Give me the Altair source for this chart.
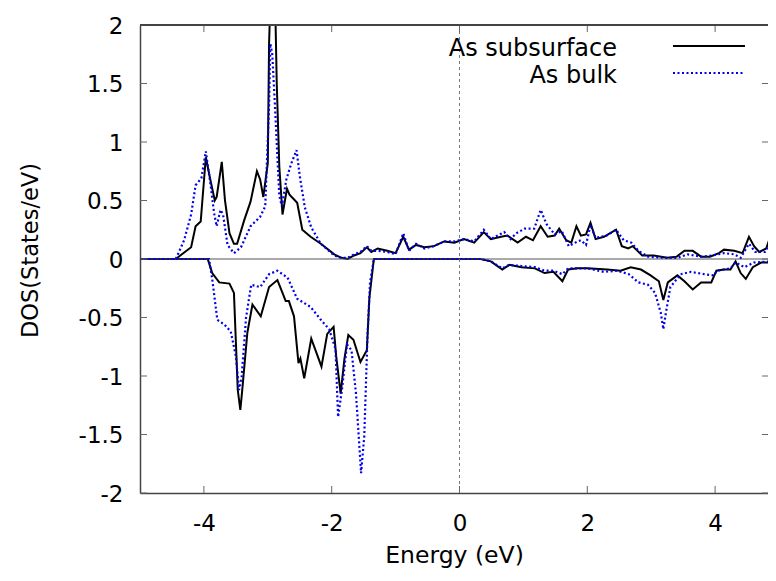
import altair as alt
import pandas as pd

# ---------------- data ----------------
sub_up_E = [-5.0, -4.44, -4.37, -4.2, -4.13, -4.05, -3.97, -3.90, -3.83, -3.80, -3.72, -3.67, -3.60, -3.53,
            -3.48, -3.37, -3.27, -3.17, -3.12, -3.07, -3.00, -2.98, -2.955, -2.92, -2.885, -2.86, -2.82, -2.77,
            -2.70, -2.66, -2.54, -2.46, -2.33, -2.17, -1.96, -1.85, -1.75, -1.65, -1.55, -1.45, -1.38, -1.28,
            -1.13, -1.00, -0.88, -0.79, -0.68, -0.55, -0.40, -0.24, -0.08, 0.07, 0.23, 0.38, 0.49, 0.65, 0.75,
            0.91, 1.04, 1.15, 1.27, 1.38, 1.49, 1.56, 1.67, 1.75, 1.83, 1.90, 1.98, 2.05, 2.13, 2.26, 2.45,
            2.54, 2.64, 2.71, 2.86, 3.04, 3.25, 3.40, 3.52, 3.65, 3.78, 3.92, 4.06, 4.14, 4.30, 4.43, 4.53,
            4.61, 4.69, 4.80, 4.87, 4.92, 5.0]
sub_up_D = [0.0, 0.0, 0.03, 0.10, 0.28, 0.32, 0.87, 0.68, 0.50, 0.53, 0.83, 0.50, 0.22, 0.13,
            0.13, 0.33, 0.49, 0.75, 0.68, 0.53, 0.82, 1.84, 2.3, 2.6, 2.2, 1.50, 0.79, 0.38,
            0.60, 0.55, 0.48, 0.25, 0.19, 0.13, 0.04, 0.01, 0.0, 0.03, 0.05, 0.10, 0.06, 0.09,
            0.07, 0.05, 0.19, 0.08, 0.12, 0.10, 0.11, 0.15, 0.14, 0.17, 0.14, 0.23, 0.17, 0.19, 0.20,
            0.14, 0.19, 0.16, 0.28, 0.19, 0.20, 0.26, 0.16, 0.14, 0.28, 0.20, 0.21, 0.31, 0.17, 0.19, 0.25,
            0.11, 0.09, 0.11, 0.03, 0.03, 0.01, 0.02, 0.07, 0.07, 0.02, 0.02, 0.05, 0.08, 0.07, 0.05, 0.19,
            0.11, 0.06, 0.09, 0.20, 0.26, 0.30]

bulk_up_E = [-5.0, -4.44, -4.31, -4.2, -4.13, -4.04, -3.97, -3.89, -3.84, -3.80, -3.74, -3.70, -3.63, -3.53,
             -3.42, -3.27, -3.12, -3.04, -2.98, -2.96, -2.93, -2.89, -2.82, -2.78, -2.71, -2.63, -2.55, -2.50,
             -2.42, -2.32, -2.17, -1.96, -1.85, -1.75, -1.65, -1.55, -1.45, -1.38, -1.28, -1.13, -1.00, -0.88,
             -0.79, -0.68, -0.55, -0.40, -0.24, -0.08, 0.07, 0.23, 0.38, 0.49, 0.70, 0.80, 0.89, 1.02, 1.17,
             1.27, 1.36, 1.49, 1.60, 1.71, 1.81, 1.90, 1.98, 2.05, 2.13, 2.30, 2.45, 2.57, 2.69, 2.80, 2.95,
             3.20, 3.41, 3.57, 3.78, 3.95, 4.14, 4.30, 4.40, 4.53, 4.63, 4.78, 4.87, 4.95, 5.0]
bulk_up_D = [0.0, 0.0, 0.16, 0.38, 0.63, 0.69, 0.92, 0.61, 0.39, 0.28, 0.42, 0.38, 0.12, 0.05,
             0.10, 0.28, 0.36, 0.45, 1.31, 1.84, 1.75, 1.33, 0.54, 0.45, 0.68, 0.82, 0.93, 0.71,
             0.44, 0.27, 0.13, 0.03, 0.01, 0.01, 0.04, 0.06, 0.11, 0.07, 0.07, 0.06, 0.04, 0.22,
             0.07, 0.13, 0.09, 0.11, 0.15, 0.15, 0.17, 0.15, 0.25, 0.17, 0.23, 0.17, 0.22, 0.26, 0.26,
             0.42, 0.30, 0.21, 0.24, 0.11, 0.14, 0.16, 0.12, 0.29, 0.18, 0.20, 0.25, 0.16, 0.14, 0.07, 0.02,
             0.01, 0.01, 0.04, 0.02, 0.03, 0.05, 0.04, 0.01, 0.13, 0.06, 0.06, 0.14, 0.18, 0.20]

sub_dn_E = [-5.0, -3.94, -3.87, -3.76, -3.60, -3.53, -3.47, -3.43, -3.40, -3.32, -3.24, -3.11, -2.98, -2.85,
            -2.77, -2.72, -2.67, -2.59, -2.52, -2.49, -2.43, -2.32, -2.26, -2.16, -2.07, -1.97, -1.93, -1.86,
            -1.80, -1.74, -1.66, -1.55, -1.45, -1.41, -1.34, 0.33, 0.49, 0.67, 0.78, 0.97, 1.18, 1.33, 1.47,
            1.61, 1.70, 1.85, 2.00, 2.31, 2.52, 2.68, 2.84, 2.99, 3.12, 3.19, 3.26, 3.41, 3.52, 3.65, 3.78,
            3.94, 4.02, 4.14, 4.24, 4.32, 4.40, 4.48, 4.59, 4.72, 4.87, 5.0]
sub_dn_D = [0.0, 0.0, -0.12, -0.20, -0.21, -0.29, -1.12, -1.29, -1.12, -0.63, -0.39, -0.49, -0.24, -0.18,
            -0.29, -0.36, -0.36, -0.49, -0.89, -0.85, -1.02, -0.68, -0.77, -0.92, -0.64, -0.58, -0.83, -1.15,
            -0.85, -0.65, -0.69, -0.88, -0.78, -0.33, 0.0, 0.0, -0.02, -0.09, -0.05, -0.07, -0.08, -0.12, -0.11,
            -0.19, -0.09, -0.08, -0.08, -0.09, -0.10, -0.07, -0.09, -0.14, -0.19, -0.35, -0.20, -0.14, -0.19,
            -0.26, -0.20, -0.20, -0.10, -0.09, -0.09, -0.02, -0.12, -0.17, -0.07, -0.03, -0.03, -0.03]

bulk_dn_E = [-5.0, -3.92, -3.87, -3.79, -3.68, -3.58, -3.50, -3.45, -3.41, -3.34, -3.26, -3.12, -2.98, -2.85,
             -2.69, -2.54, -2.33, -2.17, -2.04, -1.94, -1.90, -1.84, -1.76, -1.69, -1.62, -1.54, -1.49, -1.44,
             -1.40, -1.34, 0.33, 0.49, 0.67, 0.78, 0.97, 1.18, 1.33, 1.47, 1.61, 1.70, 1.85, 2.00, 2.26, 2.47,
             2.65, 2.80, 2.95, 3.06, 3.15, 3.19, 3.23, 3.30, 3.46, 3.62, 3.83, 3.98, 4.03, 4.24, 4.32, 4.46,
             4.61, 4.87, 5.0]
bulk_dn_D = [0.0, 0.0, -0.17, -0.52, -0.56, -0.62, -0.83, -1.12, -1.01, -0.50, -0.22, -0.24, -0.13, -0.10,
             -0.16, -0.34, -0.41, -0.52, -0.60, -0.77, -1.35, -1.12, -0.73, -0.78, -1.15, -1.83, -1.51, -0.66,
             -0.20, 0.0, 0.0, -0.02, -0.08, -0.05, -0.06, -0.07, -0.10, -0.10, -0.13, -0.08, -0.08, -0.08, -0.11,
             -0.10, -0.13, -0.20, -0.22, -0.29, -0.46, -0.60, -0.46, -0.24, -0.13, -0.11, -0.13, -0.14, -0.10,
             -0.08, -0.03, -0.07, -0.03, -0.02, -0.02]

series_names = ["As subsurface", "As bulk"]
x_ticks = [-4, -2, 0, 2, 4]
y_ticks = [-2, -1.5, -1, -0.5, 0, 0.5, 1, 1.5, 2]

rows = []
for name, part, E, D in [("As subsurface", "up", sub_up_E, sub_up_D),
                         ("As subsurface", "dn", sub_dn_E, sub_dn_D),
                         ("As bulk", "up", bulk_up_E, bulk_up_D),
                         ("As bulk", "dn", bulk_dn_E, bulk_dn_D)]:
    for i, (e, d) in enumerate(zip(E, D)):
        rows.append({"series": name, "part": part, "idx": i, "energy": e, "dos": d})
df = pd.DataFrame(rows)

# ---------------- layout / style ----------------
W, H = 628, 468
XMIN = -5.0
XMAX = XMIN + W / 63.9          # the reference's right border lies just outside the picture
FONT = "DejaVu Sans"
FS = 23
FRAME = "#444444"
BLUE = "#0000ee"

x_scale = alt.Scale(domain=[XMIN, XMAX], nice=False, zero=False)
y_scale = alt.Scale(domain=[-2, 2], nice=False, zero=False)

x_axis = alt.Axis(values=x_ticks, labelExpr="datum.value + ''", ticks=False, grid=False,
                  domainColor=FRAME, domainWidth=1.5, labelFont=FONT, labelFontSize=FS,
                  labelColor="black", labelPadding=19, labelFlush=False,
                  title="Energy (eV)", titleFont=FONT, titleFontSize=23.5, titleFontWeight="normal",
                  titleColor="black", titleY=69, titleBaseline="alphabetic")
y_axis = alt.Axis(values=y_ticks, labelExpr="datum.value + ''", ticks=False, grid=False,
                  domainColor=FRAME, domainWidth=1.5, labelFont=FONT, labelFontSize=FS,
                  labelColor="black", labelPadding=17, labelFlush=False, labelOffset=1,
                  title="DOS(States/eV)", titleFont=FONT, titleFontSize=22.5, titleFontWeight="normal",
                  titleColor="black", titleX=-103, titleY=225, titleBaseline="alphabetic", titleAngle=-90)

X = lambda f: alt.X(f, scale=x_scale, axis=x_axis)
Y = lambda f: alt.Y(f, scale=y_scale, axis=y_axis)

base = alt.Chart(df)

line_sub = base.transform_filter(alt.datum.series == "As subsurface").mark_line(
    clip=True, color="black", strokeWidth=2).encode(
    x=X("energy:Q"), y=Y("dos:Q"), detail="part:N", order="idx:Q")
line_bulk = base.transform_filter(alt.datum.series == "As bulk").mark_line(
    clip=True, color=BLUE, strokeWidth=2.2, strokeDash=[2, 2.5]).encode(
    x=X("energy:Q"), y=Y("dos:Q"), detail="part:N", order="idx:Q")

zero_df = pd.DataFrame({"z": [0]})
zero_line = alt.Chart(zero_df).mark_rule(color="#555555", strokeWidth=1).encode(y=Y("z:Q"))
vzero = alt.Chart(zero_df).mark_rule(color="#777777", strokeWidth=1, strokeDash=[3, 3]).encode(x=X("z:Q"))

xt = pd.DataFrame({"v": x_ticks})
yt = pd.DataFrame({"v": y_ticks})
tick_style = dict(color="#666666", strokeWidth=1)
xt_bottom = alt.Chart(xt).mark_rule(**tick_style).encode(x=X("v:Q"), y=alt.value(H), y2=alt.value(H - 7))
xt_top = alt.Chart(xt).mark_rule(**tick_style).encode(x=X("v:Q"), y=alt.value(0), y2=alt.value(7))
yt_left = alt.Chart(yt).mark_rule(**tick_style).encode(y=Y("v:Q"), x=alt.value(0), x2=alt.value(7))
yt_right = alt.Chart(yt).mark_rule(**tick_style).encode(y=Y("v:Q"), x=alt.value(W - 6), x2=alt.value(W))
top_border = alt.Chart(xt).mark_rule(color=FRAME, strokeWidth=1.5).encode(
    x=alt.value(0), x2=alt.value(W), y=alt.value(0))

# legend (gnuplot style: label on the left, sample on the right)
LFS = 24
leg1_txt = alt.Chart(pd.DataFrame({"label": [series_names[0]]})).mark_text(
    align="right", baseline="alphabetic", font=FONT, fontSize=LFS, color="black").encode(
    text="label:N", x=alt.value(477), y=alt.value(31))
leg2_txt = alt.Chart(pd.DataFrame({"label": [series_names[1]]})).mark_text(
    align="right", baseline="alphabetic", font=FONT, fontSize=LFS, color="black").encode(
    text="label:N", x=alt.value(477), y=alt.value(57.5))
leg1_line = alt.Chart(pd.DataFrame({"label": [series_names[0]]})).mark_rule(
    color="black", strokeWidth=2).encode(x=alt.value(533), x2=alt.value(605), y=alt.value(21))
leg2_line = alt.Chart(pd.DataFrame({"label": [series_names[1]]})).mark_rule(
    color=BLUE, strokeWidth=2.2, strokeDash=[2, 2.5]).encode(x=alt.value(533), x2=alt.value(605), y=alt.value(48))

chart = alt.layer(
    line_sub, zero_line, vzero, line_bulk,
    xt_bottom, xt_top, yt_left, yt_right, top_border,
    leg1_txt, leg2_txt, leg1_line, leg2_line,
).properties(
    width=W, height=H,
    autosize=alt.AutoSizeParams(type="none"),
    padding={"left": 132, "top": 17, "right": 0, "bottom": 75},
    background="white",
).configure_view(stroke=None)

chart.save("out.html", embed_options={"renderer": "svg", "actions": False})
